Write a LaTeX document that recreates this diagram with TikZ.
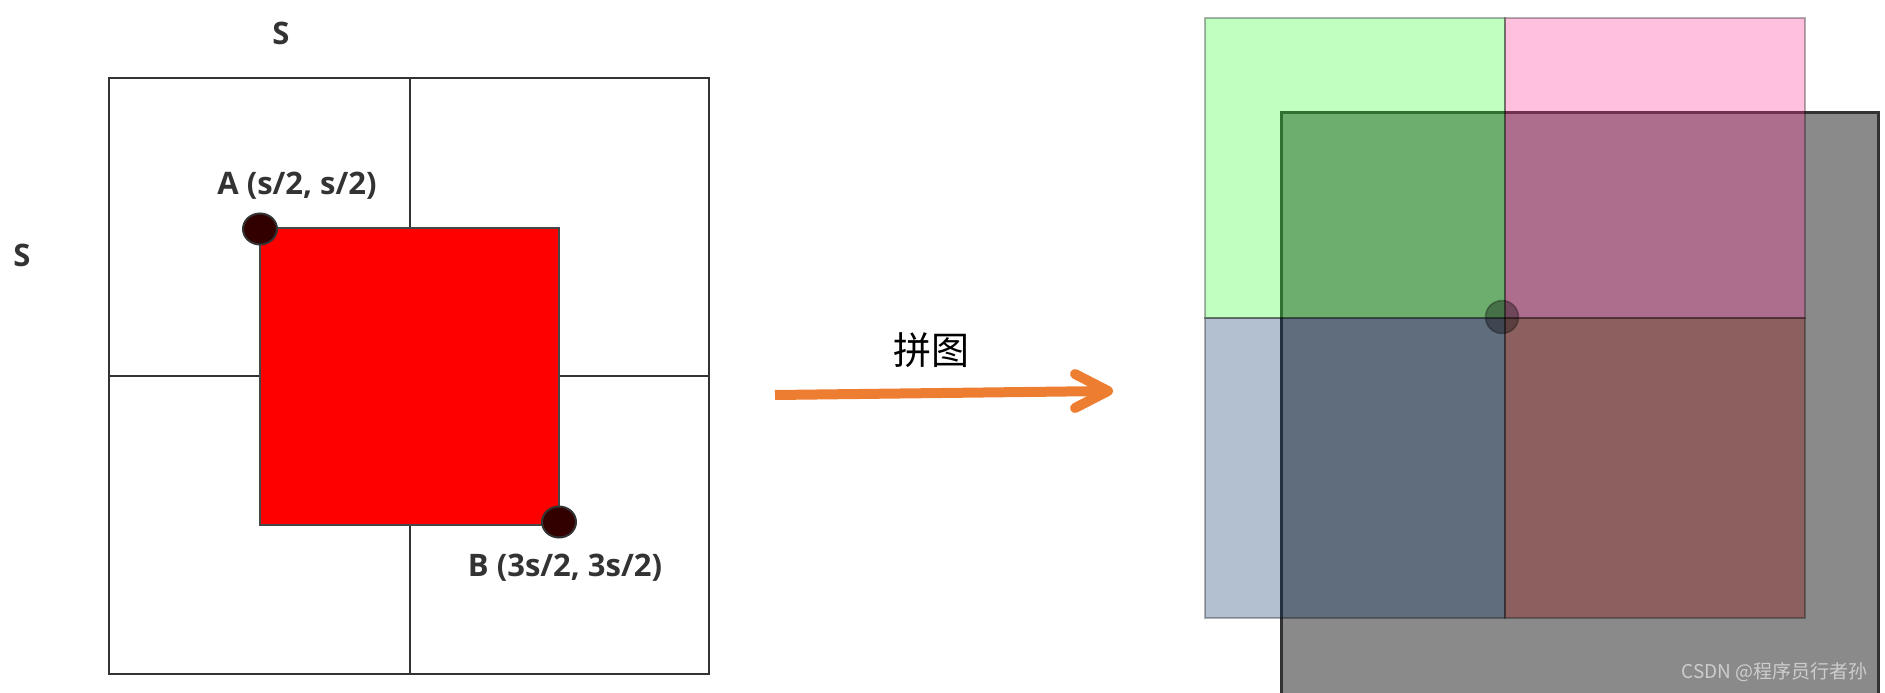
\documentclass[tikz,border=0pt]{standalone}
\usepackage{fontspec}
\setmainfont{Open Sans}
\newfontfamily\cjk{Noto Sans CJK SC}
\usetikzlibrary{shapes.geometric}
\definecolor{ink}{HTML}{333333}
\definecolor{dotfill}{HTML}{330000}
\definecolor{arroworange}{HTML}{ED7D31}
\definecolor{graysq}{RGB}{138,138,138}
\definecolor{qgreen}{RGB}{45,255,45}
\definecolor{qpink}{RGB}{255,45,145}
\definecolor{qblue}{RGB}{0,45,98}
\definecolor{qred}{RGB}{151,0,0}
\definecolor{wm}{RGB}{205,205,205}
\tikzset{
  gridline/.style={draw=ink, line width=2.6pt},
  redsq/.style={draw=ink!90, line width=2.6pt, fill=red},
  cornerdot/.style={ellipse, draw=ink, line width=2pt, fill=dotfill, minimum width=34pt, minimum height=31pt, inner sep=0pt},
  lbl/.style={font=\bfseries\fontsize{31}{33}\selectfont, text=ink, anchor=base, inner sep=0pt},
  quad/.style={fill opacity=0.3, draw=black, draw opacity=0.3, line width=2pt},
  orangeline/.style={draw=arroworange, line width=10pt},
}
\begin{document}
\begin{tikzpicture}[x=1pt,y=-1pt]
\useasboundingbox (0,0) rectangle (1885,693);
\clip (0,0) rectangle (1885,693);
% ---------- left: grid with red square ----------
\draw[gridline] (109,78) rectangle (709,674);
\draw[gridline] (410,78) -- (410,674);
\draw[gridline] (109,376) -- (709,376);
\draw[redsq] (260,228) rectangle (559,525);
\node[cornerdot] (A) at (260,229) {};
\node[cornerdot] (B) at (559,522) {};
\node[lbl] (la) at (297,194) {A (s/2, s/2)};
\node[lbl] (lb) at (565,576) {B (3s/2, 3s/2)};
\node[lbl] (stop) at (281,45) {S};
\node[lbl] (sleft) at (22,266) {S};
% ---------- arrow ----------
\coordinate (p) at (775,395);
\coordinate (q) at (1108,391);
\draw[orangeline] (p) -- (q);
\draw[orangeline, line cap=round, line join=round] ([shift={(-33,-17)}]q) -- (q) -- ([shift={(-33,17)}]q);
\node[font=\cjk\fontsize{38}{40}\selectfont, text=black, inner sep=0pt] (title) at (931,350) {拼图};
% ---------- right: mosaic ----------
\draw[fill=graysq, draw=ink, line width=3pt] (1281,112) rectangle (1878,712);
\path[quad, fill=qgreen] (1205,18) rectangle (1505,318);
\path[quad, fill=qpink] (1505,18) rectangle (1805,318);
\path[quad, fill=qblue] (1205,318) rectangle (1505,618);
\path[quad, fill=qred] (1505,318) rectangle (1805,618);
\node[circle, minimum size=33pt, inner sep=0pt, fill=black, fill opacity=0.35, draw=black, draw opacity=0.3, line width=1.5pt] (c) at (1502,317) {};
\node[font=\cjk\fontsize{19}{21}\selectfont, text=wm, anchor=east, inner sep=0pt] (wmark) at (1868,672) {CSDN @程序员行者孙};
\end{tikzpicture}
\end{document}
